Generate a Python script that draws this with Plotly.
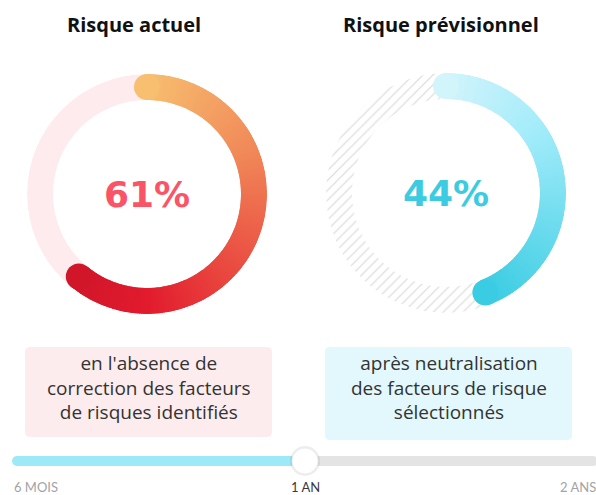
import numpy as np
import plotly.graph_objects as go

W, H = 596, 495

# ---------------- data ----------------
titles = ["Risque actuel", "Risque prévisionnel"]
risk_values = [61, 44]                      # percent
descriptions = [
    "en l'absence de<br>correction des facteurs<br>de risques identifiés",
    "après neutralisation<br>des facteurs de risque<br>sélectionnés",
]
slider_labels = ["6 MOIS", "1 AN", "2 ANS"]
slider_years = [0.5, 1, 2]
selected_year = 1

# ---------------- styles ----------------
arc_scales = [
    [[0, "#F7BF6F"], [0.3, "#F18A59"], [0.6, "#EA4B41"], [0.82, "#E21B2E"], [1, "#D1162A"]],
    [[0, "#D2F4FB"], [0.35, "#A3ECFA"], [1, "#3ACCE2"]],
]
value_colors = ["#FA5467", "#3DCBE1"]
box_colors = ["#FDECEE", "#E2F8FC"]
centers = [(147, 194), (446, 193)]          # donut centres (px)
title_x = [134, 441]
boxes = [(25, 347, 272, 437), (325, 347, 572, 440)]
R_OUT, THICK = 120, 26

fig = go.Figure()
layout_polars = {}

for i, v in enumerate(risk_values):
    pk = "polar" if i == 0 else "polar2"
    end = v * 3.6
    # background ring
    if i == 0:
        bg_marker = dict(color="#FDEBEE", line=dict(width=0))
    else:
        bg_marker = dict(color="white", line=dict(width=0),
                         pattern=dict(shape="/", fgcolor="#BEBEBE", bgcolor="white",
                                      size=7, solidity=0.18))
    fig.add_trace(go.Barpolar(r=[THICK], base=[R_OUT - THICK], theta=[180], width=[360],
                              marker=bg_marker, subplot=pk, hoverinfo="skip"))
    # gradient arc
    n = int(np.ceil(end))
    edges = np.linspace(0, end, n + 1)
    mids = (edges[:-1] + edges[1:]) / 2
    widths = np.diff(edges) * 1.8
    fig.add_trace(go.Barpolar(
        r=[THICK] * n, base=[R_OUT - THICK] * n, theta=mids, width=widths,
        marker=dict(color=mids, colorscale=arc_scales[i], cmin=0, cmax=end,
                    line=dict(width=0), showscale=False),
        subplot=pk, hoverinfo="skip"))
    # round caps
    fig.add_trace(go.Scatterpolar(
        r=[R_OUT - THICK / 2] * 2, theta=[0, end], mode="markers",
        marker=dict(size=THICK, color=[0, end], colorscale=arc_scales[i], cmin=0, cmax=end,
                    line=dict(width=0)),
        subplot=pk, hoverinfo="skip"))

    cx, cy = centers[i]
    layout_polars[pk] = dict(
        domain=dict(x=[(cx - R_OUT) / W, (cx + R_OUT) / W],
                    y=[(H - cy - R_OUT) / H, (H - cy + R_OUT) / H]),
        bgcolor="rgba(0,0,0,0)", barmode="overlay",
        radialaxis=dict(visible=False, range=[0, R_OUT]),
        angularaxis=dict(visible=False, rotation=90, direction="clockwise"),
    )

# ---------------- slider ----------------
lo, hi = np.log10(slider_years[0]), np.log10(slider_years[-1])
fig.add_trace(go.Scatter(x=[slider_years[0], slider_years[-1]], y=[0, 0], mode="lines",
                         line=dict(color="#E4E4E4", width=10), hoverinfo="skip"))
fig.add_trace(go.Scatter(x=[slider_years[-1]], y=[0], mode="markers",
                         marker=dict(color="#E4E4E4", size=10), hoverinfo="skip"))
fig.add_trace(go.Scatter(x=[slider_years[0], selected_year], y=[0, 0], mode="lines",
                         line=dict(color="#9DE9F7", width=10), hoverinfo="skip"))
fig.add_trace(go.Scatter(x=[slider_years[0]], y=[0], mode="markers",
                         marker=dict(color="#9DE9F7", size=10), hoverinfo="skip"))
fig.add_trace(go.Scatter(x=[selected_year], y=[0], mode="markers",
                         marker=dict(color="rgba(0,0,0,0.07)", size=30), hoverinfo="skip"))
fig.add_trace(go.Scatter(x=[selected_year], y=[0], mode="markers",
                         marker=dict(color="white", size=26, line=dict(color="#EDEDED", width=1)),
                         hoverinfo="skip"))

annotations = []
for i, t in enumerate(titles):
    annotations.append(dict(text=t, x=title_x[i] / W, y=1 - 25 / H, xref="paper", yref="paper",
                            showarrow=False, xanchor="center", yanchor="middle",
                            font=dict(family="Open Sans", size=20, color="#111111", weight="bold")))
    cx, cy = centers[i]
    annotations.append(dict(text=f"{risk_values[i]}%", x=cx / W, y=1 - cy / H, xref="paper",
                            yref="paper", showarrow=False, xanchor="center", yanchor="middle",
                            font=dict(family="DejaVu Sans", size=36, color=value_colors[i],
                                      weight="bold")))
    x0, y0, x1, y1 = boxes[i]
    annotations.append(dict(text=descriptions[i], x=(x0 + x1) / 2 / W, y=1 - 387 / H,
                            xref="paper", yref="paper", showarrow=False, xanchor="center",
                            yanchor="middle", align="center",
                            font=dict(family="Open Sans", size=19, color="#333333")))

label_anchor = ["left", "center", "right"]
label_shift = [-5, 0, 5]
for lab, yr, anc, sh in zip(slider_labels, slider_years, label_anchor, label_shift):
    annotations.append(dict(text=lab, x=np.log10(yr), y=1 - 487 / H, xref="x", yref="paper",
                            showarrow=False, xanchor=anc, yanchor="middle", xshift=sh,
                            font=dict(family="Lato", size=13,
                                      color="#3A3A3A" if yr == selected_year else "#A3A3A3")))


def rounded_rect(x0, y0, x1, y1, r):
    px = lambda x: x / W
    py = lambda y: 1 - y / H
    return (f"M {px(x0 + r)},{py(y0)} L {px(x1 - r)},{py(y0)} Q {px(x1)},{py(y0)} {px(x1)},{py(y0 + r)} "
            f"L {px(x1)},{py(y1 - r)} Q {px(x1)},{py(y1)} {px(x1 - r)},{py(y1)} "
            f"L {px(x0 + r)},{py(y1)} Q {px(x0)},{py(y1)} {px(x0)},{py(y1 - r)} "
            f"L {px(x0)},{py(y0 + r)} Q {px(x0)},{py(y0)} {px(x0 + r)},{py(y0)} Z")


shapes = [dict(type="path", path=rounded_rect(*boxes[i], 5), xref="paper", yref="paper",
               fillcolor=box_colors[i], line=dict(width=0), layer="below") for i in range(2)]

# x-axis pixel mapping: 6 MOIS at 17px, 1 AN at 305px, 2 ANS at 593px (log scale)
px_lo, px_hi = 17, 593
span = (hi - lo) / (px_hi - px_lo)
x_range = [lo - px_lo * span, lo + (W - px_lo) * span]

fig.update_layout(
    width=W, height=H, margin=dict(l=0, r=0, t=0, b=0),
    paper_bgcolor="white", plot_bgcolor="rgba(0,0,0,0)", showlegend=False,
    xaxis=dict(type="log", range=x_range, domain=[0, 1], visible=False, fixedrange=True),
    yaxis=dict(range=[-1, 1], domain=[0, 68 / H], visible=False, fixedrange=True),
    annotations=annotations, shapes=shapes,
    **layout_polars,
)

fig.write_html("out.html", config={"displayModeBar": False},
               post_script="document.body.style.margin='0';document.body.style.overflow='hidden';")
